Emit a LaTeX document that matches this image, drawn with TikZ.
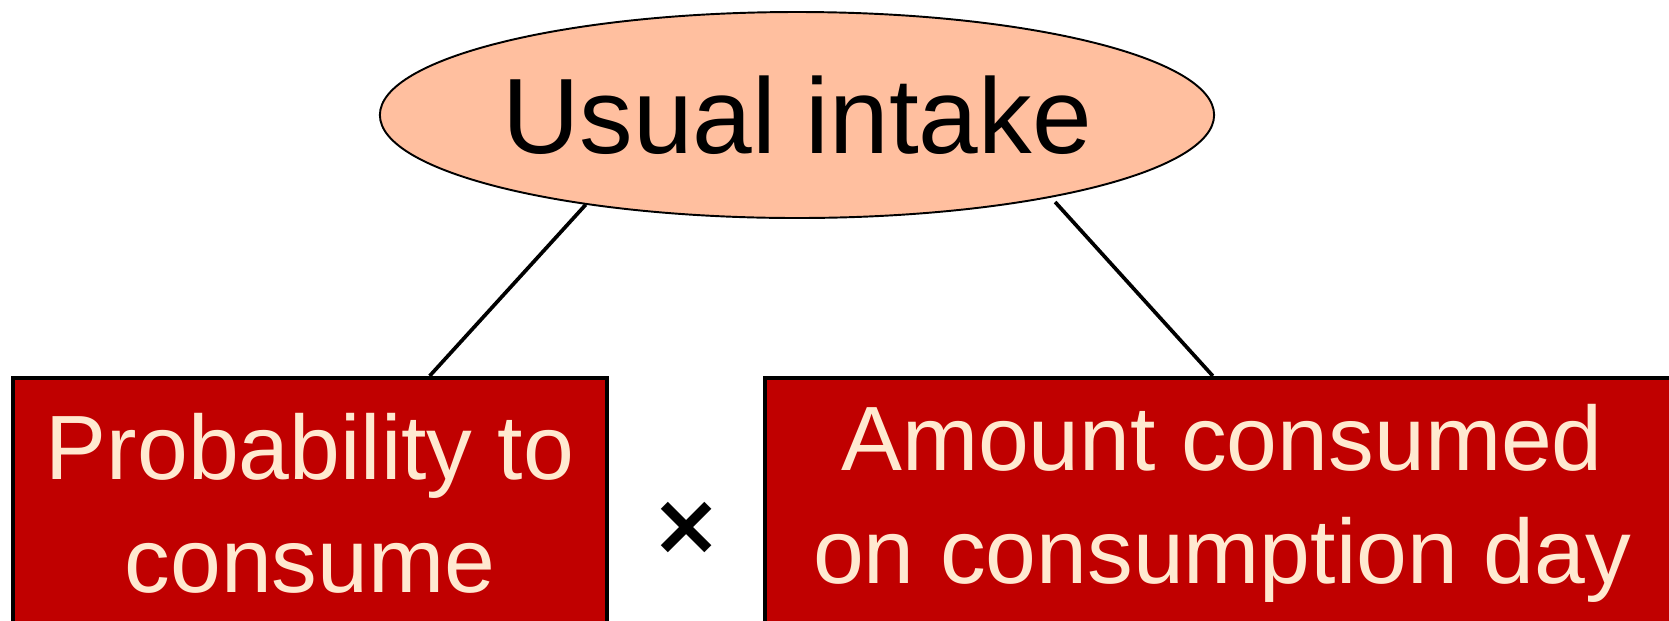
\documentclass[tikz,border=0pt]{standalone}
\usepackage{fontspec}
\setmainfont{Liberation Sans}
\newfontfamily\symfont{DejaVu Sans}
\usepackage{tikz}
\usetikzlibrary{shapes.geometric,calc}

\definecolor{peach}{HTML}{FFBF9F}
\definecolor{boxred}{HTML}{C00000}
\definecolor{cream}{HTML}{FFE9D0}

\tikzset{
	top/.style = { ellipse, draw, line width = 1.1pt, fill = peach,
		inner sep = 0pt, minimum width = 16.64cm, minimum height = 4.12cm,
		font = \fontsize{61}{72}\selectfont },
	part/.style = { rectangle, draw, line width = 2.3pt, fill = boxred,
		text = cream, align = center, inner sep = 0pt,
		minimum height = 5.02cm,
		font = \fontsize{52}{64}\selectfont },
	link/.style = { line width = 2.1pt }
}

\begin{document}
\begin{tikzpicture}
	\useasboundingbox (0,0) rectangle (33.38,-12.4);
	\node [ top ] (1) at (15.94,-2.30) 
		{ Usual intake };
	\node [ part, minimum width = 11.88cm ] (2) at (6.20,-10.07) 
		{ Probability to \\ consume };
	\node [ part, minimum width = 18.28cm ] (3) at (24.44,-10.07) 
		{ Amount consumed \\ on consumption day };
	\node (4) at (13.74,-10.56) 
		{ \symfont\bfseries\fontsize{49}{49}\selectfont × };
	\draw [ link ] (1.203) -- 
		($ (2.north west)!0.7!(2.north east) $);
	\draw [ link, shorten < = 0.12cm ] (1.342) -- 
		($ (3.north west)!0.49!(3.north east) $);
\end{tikzpicture}
\end{document}
